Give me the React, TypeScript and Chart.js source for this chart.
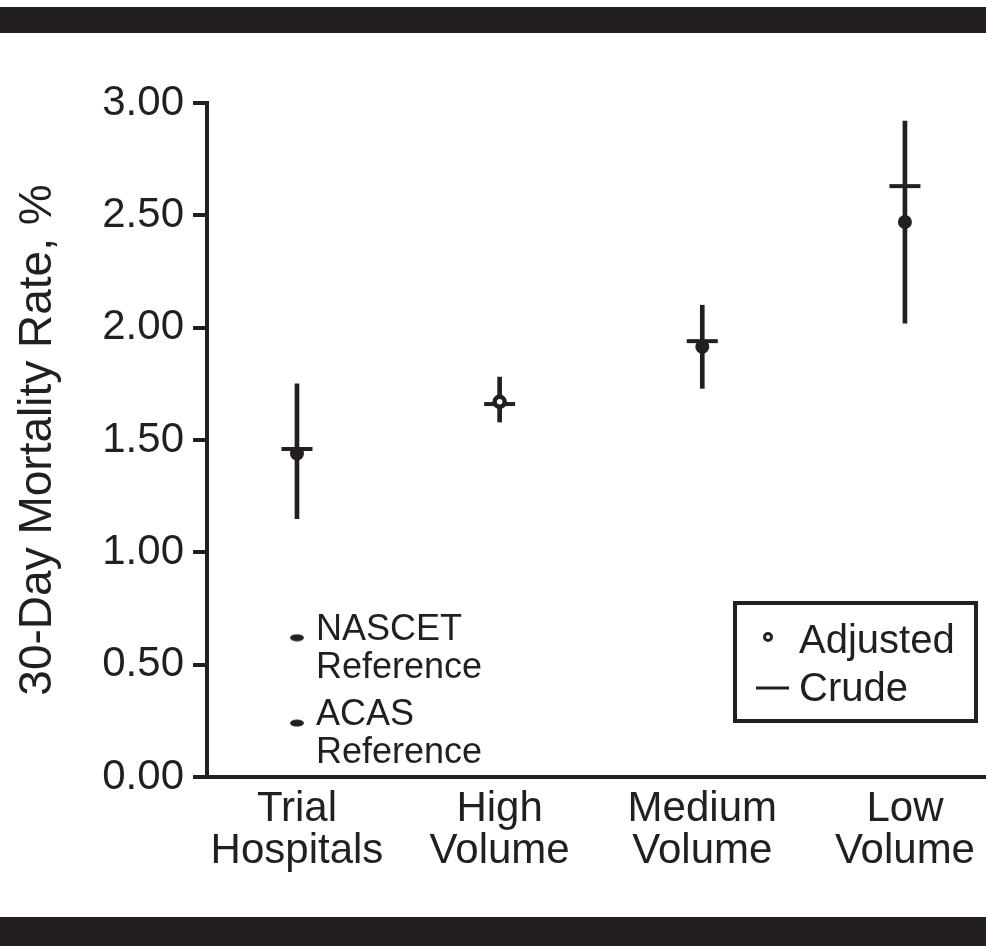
import React, { useEffect, useRef } from "react";
import { Chart, registerables } from "chart.js";

Chart.register(...registerables);

// ---------- data ----------
const categoryLabels: string[][] = [
  ["Trial", "Hospitals"],
  ["High", "Volume"],
  ["Medium", "Volume"],
  ["Low", "Volume"],
];
const categoryPositions = [0, 1, 2, 3];
const ciLower = [1.15, 1.58, 1.73, 2.02];
const ciUpper = [1.75, 1.78, 2.1, 2.92];
const crudeRates = [1.46, 1.66, 1.94, 2.63];
const adjustedRates = [1.44, 1.67, 1.915, 2.47];
const adjustedHollow = [false, true, false, false];
const referenceLabels: string[][] = [
  ["NASCET", "Reference"],
  ["ACAS", "Reference"],
];
const referenceRates = [0.62, 0.24];
const referencePosition = 0;
const yTickValues = [0, 0.5, 1, 1.5, 2, 2.5, 3];
const yAxisTitle = "30-Day Mortality Rate, %";
const legendNames = ["Adjusted", "Crude"];

// ---------- style ----------
const INK = "#231f20";
const FONT = "'Liberation Sans', Arial, Helvetica, sans-serif";

const framePlugin = {
  id: "frame",
  beforeDraw(chart: any) {
    const { ctx, width, height } = chart;
    ctx.save();
    ctx.fillStyle = "#ffffff";
    ctx.fillRect(0, 0, width, height);
    ctx.fillStyle = INK;
    ctx.fillRect(0, 7, width, 26);
    ctx.fillRect(0, 917, width, height - 917);
    ctx.restore();
  },
};

const referenceTextPlugin = {
  id: "refText",
  afterDatasetsDraw(chart: any) {
    const idx = chart.data.datasets.findIndex((d: any) => d.label === "Reference");
    if (idx < 0) return;
    const meta = chart.getDatasetMeta(idx);
    const ctx = chart.ctx;
    ctx.save();
    ctx.font = `36px ${FONT}`;
    ctx.fillStyle = INK;
    ctx.textAlign = "left";
    ctx.textBaseline = "alphabetic";
    meta.data.forEach((pt: any, i: number) => {
      (referenceLabels[i] || []).forEach((line, j) => {
        ctx.fillText(line, pt.x + 19, pt.y + 2 + j * 38);
      });
    });
    ctx.restore();
  },
};

const boxLegendPlugin = {
  id: "boxLegend",
  afterDraw(chart: any) {
    const ctx = chart.ctx;
    ctx.save();
    ctx.strokeStyle = INK;
    ctx.lineWidth = 4;
    ctx.strokeRect(735, 603, 241, 118);
    // Adjusted sample (hollow marker)
    ctx.beginPath();
    ctx.arc(768, 637, 3.5, 0, Math.PI * 2);
    ctx.fillStyle = "#fff";
    ctx.fill();
    ctx.lineWidth = 3;
    ctx.stroke();
    // Crude sample (line)
    ctx.beginPath();
    ctx.moveTo(756, 688);
    ctx.lineTo(789, 688);
    ctx.lineWidth = 3;
    ctx.stroke();
    ctx.fillStyle = INK;
    ctx.font = `40px ${FONT}`;
    ctx.textAlign = "left";
    ctx.textBaseline = "alphabetic";
    ctx.fillText(legendNames[0], 799, 653);
    ctx.fillText(legendNames[1], 799, 701);
    ctx.restore();
  },
};

export default function App() {
  const ref = useRef<HTMLCanvasElement>(null);

  useEffect(() => {
    const canvas = ref.current;
    if (!canvas) return;

    const refMark = document.createElement("canvas");
    refMark.width = 16;
    refMark.height = 8;
    const g = refMark.getContext("2d")!;
    g.fillStyle = INK;
    g.beginPath();
    g.ellipse(8, 4, 7, 3.5, 0, 0, Math.PI * 2);
    g.fill();

    const chart = new Chart(canvas, {
      type: "scatter",
      data: {
        datasets: [
          {
            type: "bar",
            label: "CI",
            data: categoryPositions.map((x, i) => ({ x, y: [ciLower[i], ciUpper[i]] })) as any,
            backgroundColor: INK,
            borderWidth: 0,
            barThickness: 4,
            order: 3,
          } as any,
          {
            label: legendNames[1],
            data: categoryPositions.map((x, i) => ({ x, y: crudeRates[i] })),
            pointStyle: "line",
            pointRadius: 15.5,
            pointBorderWidth: 4,
            pointBorderColor: INK,
            pointBackgroundColor: INK,
            order: 2,
          } as any,
          {
            label: legendNames[0],
            data: categoryPositions.map((x, i) => ({ x, y: adjustedRates[i] })),
            pointStyle: "circle",
            pointRadius: adjustedHollow.map((h) => (h ? 5 : 7)),
            pointBorderWidth: adjustedHollow.map((h) => (h ? 4.5 : 0)),
            pointBackgroundColor: adjustedHollow.map((h) => (h ? "#ffffff" : INK)),
            pointBorderColor: INK,
            order: 1,
          } as any,
          {
            label: "Reference",
            data: referenceRates.map((y) => ({ x: referencePosition, y })),
            pointStyle: refMark,
            pointRadius: 5,
            order: 1,
          } as any,
        ],
      },
      options: {
        animation: false,
        responsive: false,
        events: [],
        layout: { autoPadding: false, padding: { top: 103, left: 0, right: 0, bottom: 0 } },
        plugins: {
          legend: { display: false },
          tooltip: { enabled: false },
          colors: { enabled: false },
        } as any,
        scales: {
          x: {
            type: "linear",
            offset: false,
            min: -0.444,
            max: 3.4,
            afterBuildTicks: (s: any) => {
              s.ticks = categoryPositions.map((v) => ({ value: v }));
            },
            afterFit: (s: any) => {
              s.height = 169;
              s.paddingLeft = 0;
              s.paddingRight = 0;
            },
            grid: { display: false, drawTicks: false, offset: false },
            border: { display: true, color: INK, width: 4 },
            ticks: {
              autoSkip: false,
              maxRotation: 0,
              minRotation: 0,
              padding: 11,
              color: INK,
              font: { family: FONT, size: 42, lineHeight: 1.0 },
              callback: (v: any) => categoryLabels[categoryPositions.indexOf(Number(v))] ?? "",
            },
          },
          y: {
            type: "linear",
            offset: false,
            min: 0,
            max: 3,
            afterBuildTicks: (s: any) => {
              s.ticks = yTickValues.map((v) => ({ value: v }));
            },
            afterFit: (s: any) => {
              s.width = 207;
            },
            grid: {
              drawOnChartArea: false,
              drawTicks: true,
              tickLength: 14,
              tickWidth: 4,
              tickColor: INK,
              lineWidth: 4,
              color: INK,
            },
            border: { display: true, color: INK, width: 4 },
            ticks: {
              padding: 9,
              color: INK,
              font: { family: FONT, size: 42 },
              callback: (v: any) => Number(v).toFixed(2),
            },
            title: {
              display: true,
              text: yAxisTitle,
              color: INK,
              font: { family: FONT, size: 46 },
              padding: { top: 11, bottom: 0 },
            },
          },
        },
      } as any,
      plugins: [framePlugin, referenceTextPlugin, boxLegendPlugin],
    });

    return () => chart.destroy();
  }, []);

  return (
    <div style={{ position: "absolute", left: 0, top: 0, width: 986, height: 946, background: "#fff" }}>
      <canvas ref={ref} width={986} height={946} style={{ display: "block", width: 986, height: 946 }} />
    </div>
  );
}
